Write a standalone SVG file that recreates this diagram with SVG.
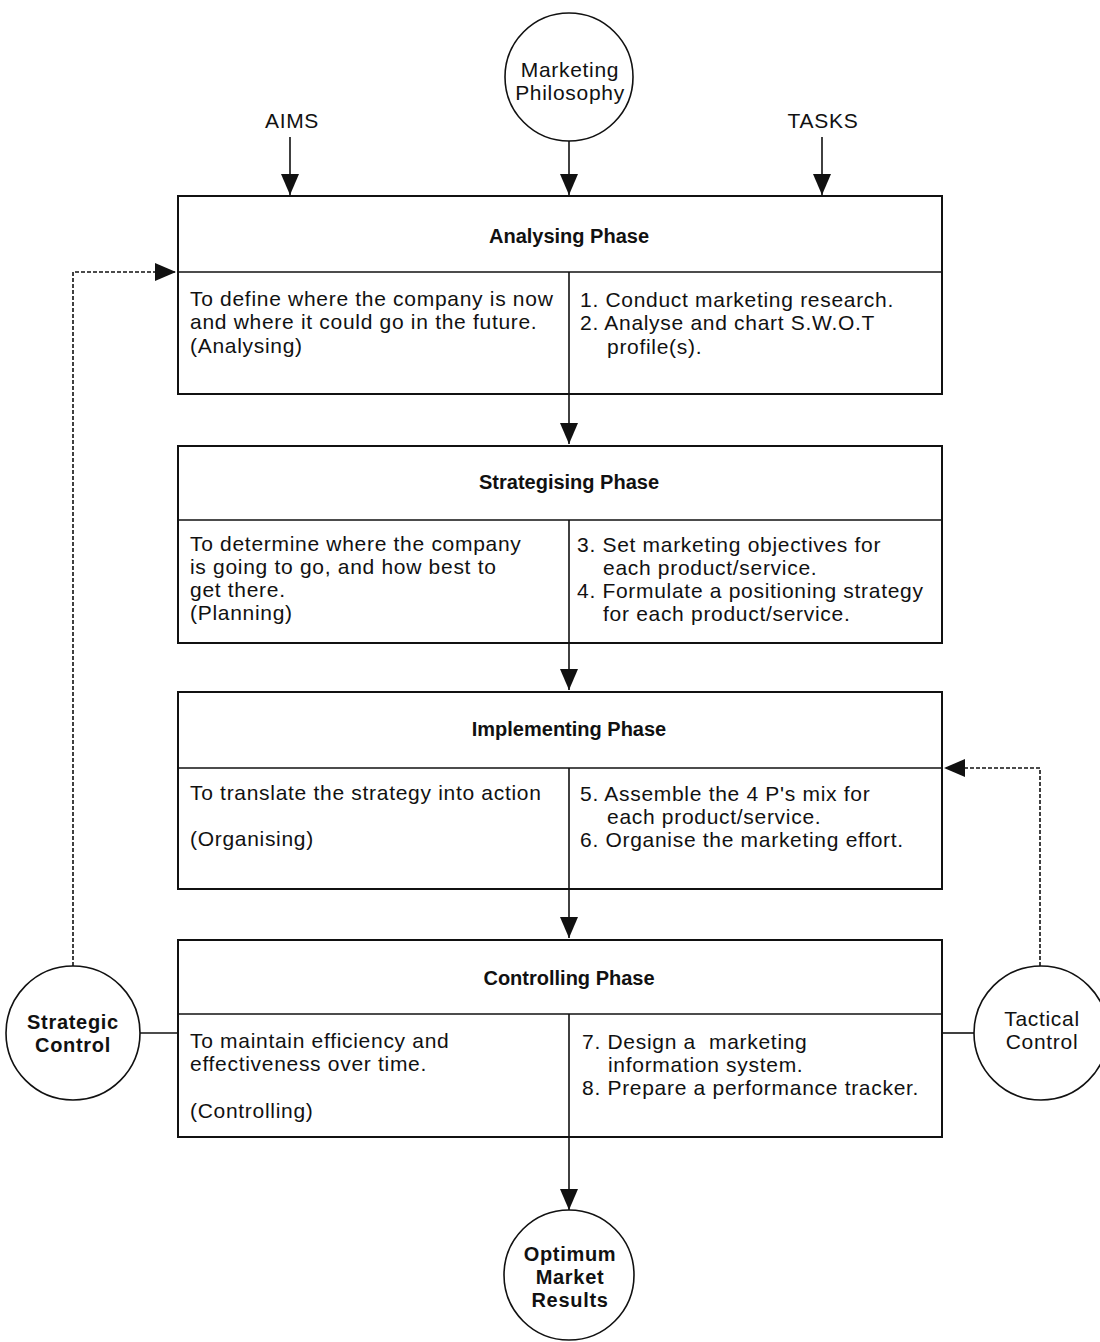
<svg xmlns="http://www.w3.org/2000/svg" width="1100" height="1342" viewBox="0 0 1100 1342">
<style>
.bg{fill:#ffffff}
.box{fill:none;stroke:#111;stroke-width:2}
.div{stroke:#111;stroke-width:1.6;fill:none}
.circ{fill:#fff;stroke:#111;stroke-width:1.6}
.con{stroke:#111;stroke-width:1.6;fill:none}
.dash{stroke:#111;stroke-width:1.6;fill:none;stroke-dasharray:4 2}
.t{font-family:"Liberation Sans",Arial,sans-serif;font-size:21px;letter-spacing:0.7px;fill:#111}
.h{font-family:"Liberation Sans",Arial,sans-serif;font-size:20px;font-weight:bold;fill:#111;text-anchor:middle}
.c{text-anchor:middle}
.b{font-weight:bold}
</style>
<defs>
<marker id="arr" markerUnits="userSpaceOnUse" markerWidth="22" markerHeight="24" refX="21" refY="11" orient="auto">
<path d="M0,2 L21,11 L0,20 Z" fill="#111"/>
</marker>
</defs>
<rect class="bg" x="0" y="0" width="1100" height="1342"/>

<g id="connectors">
<line class="con" x1="290" y1="137" x2="290" y2="195" marker-end="url(#arr)"/>
<line class="con" x1="569" y1="141" x2="569" y2="195" marker-end="url(#arr)"/>
<line class="con" x1="822" y1="137" x2="822" y2="195" marker-end="url(#arr)"/>
<line class="con" x1="569" y1="394" x2="569" y2="444" marker-end="url(#arr)"/>
<line class="con" x1="569" y1="643" x2="569" y2="690" marker-end="url(#arr)"/>
<line class="con" x1="569" y1="889" x2="569" y2="938" marker-end="url(#arr)"/>
<line class="con" x1="569" y1="1137" x2="569" y2="1210" marker-end="url(#arr)"/>
<line class="con" x1="140" y1="1033" x2="178" y2="1033"/>
<line class="con" x1="942" y1="1033" x2="974" y2="1033"/>
<polyline class="dash" points="73,966 73,272 176,272" marker-end="url(#arr)"/>
<polyline class="dash" points="1040,966 1040,768 944,768" marker-end="url(#arr)"/>
</g>

<g id="aims"><text class="t c" x="292" y="128">AIMS</text></g>
<g id="tasks"><text class="t c" x="823" y="128">TASKS</text></g>

<g id="marketing-philosophy">
<circle class="circ" cx="569" cy="77" r="64"/>
<text class="t c" x="570" y="77">Marketing</text>
<text class="t c" x="570" y="100">Philosophy</text>
</g>

<g id="analysing-phase">
<rect class="box" x="178" y="196" width="764" height="198"/>
<line class="div" x1="178" y1="272" x2="942" y2="272"/>
<line class="div" x1="569" y1="272" x2="569" y2="394"/>
<text class="h" x="569" y="243">Analysing Phase</text>
<text class="t" x="190" y="306">To define where the company is now</text>
<text class="t" x="190" y="329">and where it could go in the future.</text>
<text class="t" x="190" y="353">(Analysing)</text>
<text class="t" x="580" y="307">1. Conduct marketing research.</text>
<text class="t" x="580" y="330">2. Analyse and chart S.W.O.T</text>
<text class="t" x="607" y="354">profile(s).</text>
</g>

<g id="strategising-phase">
<rect class="box" x="178" y="446" width="764" height="197"/>
<line class="div" x1="178" y1="520" x2="942" y2="520"/>
<line class="div" x1="569" y1="520" x2="569" y2="643"/>
<text class="h" x="569" y="489">Strategising Phase</text>
<text class="t" x="190" y="551">To determine where the company</text>
<text class="t" x="190" y="574">is going to go, and how best to</text>
<text class="t" x="190" y="597">get there.</text>
<text class="t" x="190" y="620">(Planning)</text>
<text class="t" x="577" y="552">3. Set marketing objectives for</text>
<text class="t" x="603" y="575">each product/service.</text>
<text class="t" x="577" y="598">4. Formulate a positioning strategy</text>
<text class="t" x="603" y="621">for each product/service.</text>
</g>

<g id="implementing-phase">
<rect class="box" x="178" y="692" width="764" height="197"/>
<line class="div" x1="178" y1="768" x2="942" y2="768"/>
<line class="div" x1="569" y1="768" x2="569" y2="889"/>
<text class="h" x="569" y="736">Implementing Phase</text>
<text class="t" x="190" y="800">To translate the strategy into action</text>
<text class="t" x="190" y="846">(Organising)</text>
<text class="t" x="580" y="801">5. Assemble the 4 P's mix for</text>
<text class="t" x="607" y="824">each product/service.</text>
<text class="t" x="580" y="847">6. Organise the marketing effort.</text>
</g>

<g id="controlling-phase">
<rect class="box" x="178" y="940" width="764" height="197"/>
<line class="div" x1="178" y1="1014" x2="942" y2="1014"/>
<line class="div" x1="569" y1="1014" x2="569" y2="1137"/>
<text class="h" x="569" y="985">Controlling Phase</text>
<text class="t" x="190" y="1048">To maintain efficiency and</text>
<text class="t" x="190" y="1071">effectiveness over time.</text>
<text class="t" x="190" y="1118">(Controlling)</text>
<text class="t" x="582" y="1049">7. Design a&#160; marketing</text>
<text class="t" x="608" y="1072">information system.</text>
<text class="t" x="582" y="1095">8. Prepare a performance tracker.</text>
</g>

<g id="strategic-control">
<circle class="circ" cx="73" cy="1033" r="67"/>
<text class="t c b" x="73" y="1029" style="font-size:20px">Strategic</text>
<text class="t c b" x="73" y="1052" style="font-size:20px">Control</text>
</g>

<g id="tactical-control">
<circle class="circ" cx="1041" cy="1033" r="67"/>
<text class="t c" x="1042" y="1026">Tactical</text>
<text class="t c" x="1042" y="1049">Control</text>
</g>

<g id="optimum-market-results">
<circle class="circ" cx="569" cy="1275" r="65"/>
<text class="t c b" x="570" y="1261" style="font-size:20px">Optimum</text>
<text class="t c b" x="570" y="1284" style="font-size:20px">Market</text>
<text class="t c b" x="570" y="1307" style="font-size:20px">Results</text>
</g>
</svg>
